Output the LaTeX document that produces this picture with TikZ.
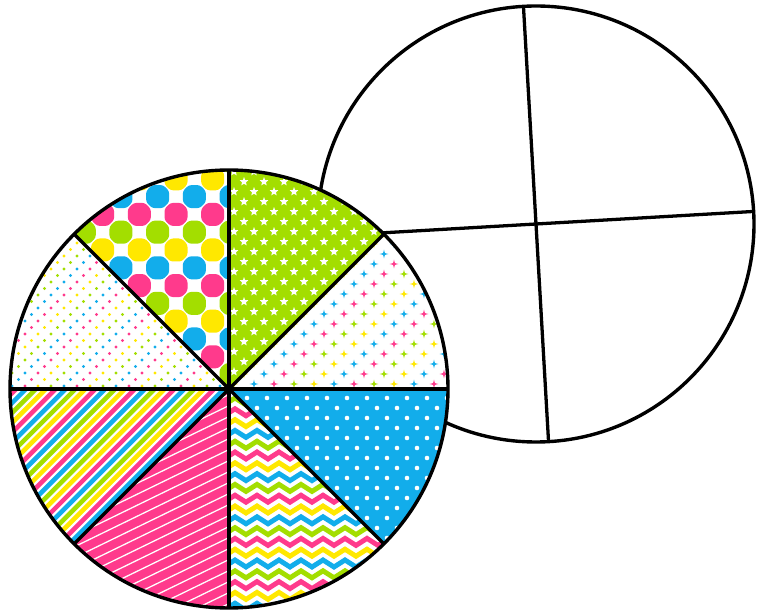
\documentclass[tikz,border=0pt]{standalone}
\usetikzlibrary{calc}
\definecolor{PieInk}{HTML}{000000}
\definecolor{PiePink}{HTML}{FF3A8C}
\definecolor{PieBlue}{HTML}{12ADEB}
\definecolor{PieYellow}{HTML}{FFE800}
\definecolor{PieGreen}{HTML}{A3DE00}
% colour cycles of the patterned wedges
\colorlet{tile0}{PieYellow}\colorlet{tile1}{PieBlue}\colorlet{tile2}{PiePink}\colorlet{tile3}{PieGreen}
\colorlet{band0}{PieBlue}\colorlet{band1}{PiePink}\colorlet{band2}{PieYellow}\colorlet{band3}{PieGreen}
\colorlet{zig0}{PieGreen}\colorlet{zig1}{PiePink}\colorlet{zig2}{PieYellow}\colorlet{zig3}{PieBlue}
\colorlet{spot0}{PieBlue}\colorlet{spot1}{PiePink}\colorlet{spot2}{PieYellow}\colorlet{spot3}{PieGreen}
\newcommand\pieR{219}
\newcommand\piewedge[2]{(front) -- ++(#1:\pieR) arc[start angle=#1,end angle=#2,radius=\pieR] -- cycle}
\tikzset{
  rim/.style={draw=PieInk,line width=2.9pt},
  divider/.style={draw=PieInk,line width=2.8pt},
  band/.style={line width=3.9pt},
  chevron/.style={line width=4.2pt},
  hairline/.style={white,line width=1.1pt},
  tilemark/.pic={
    \fill[#1,rounded corners=2.2pt] (-5.5,11.5) -- (5.5,11.5) -- (11.5,5.5) -- (11.5,-5.5)
      -- (5.5,-11.5) -- (-5.5,-11.5) -- (-11.5,-5.5) -- (-11.5,5.5) -- cycle;
  },
  starmark/.pic={
    \fill[white] (90:4.6) -- (126:2) -- (162:4.6) -- (198:2) -- (234:4.6)
      -- (270:2) -- (306:4.6) -- (342:2) -- (18:4.6) -- (54:2) -- cycle;
  },
  sparkle/.pic={
    \fill[#1] (0:4.3) -- (45:1.3) -- (90:4.3) -- (135:1.3) -- (180:4.3)
      -- (225:1.3) -- (270:4.3) -- (315:1.3) -- cycle;
  },
}
\begin{document}
\begin{tikzpicture}[x=0.03cm,y=0.03cm]
  \useasboundingbox[fill=white] (0,0) rectangle (757,612);
  \coordinate (back) at (536,388);
  \coordinate (front) at (229,223);

  % plain circle behind, cut in quarters
  \fill[white] (back) circle[radius=218];
  \draw[divider] (back) ++(93.3:218) -- ++(273.3:436);
  \draw[divider] (back) ++(3.3:218) -- ++(183.3:436);
  \draw[rim] (back) circle[radius=218];

  % patterned circle in front
  \fill[white] (front) circle[radius=\pieR];

  % quatrefoil tiles
  \begin{scope}
    \clip \piewedge{90}{135};
    \foreach \m in {-9,...,5}{
      \pgfmathtruncatemacro\ci{mod(40-\m,4)}
      \pgfmathsetmacro\ty{362+17.8*\m}
      \pgfmathsetmacro\tx{139.3+18.35*mod(\m+40,2)}
      \foreach \n in {-3,...,3}{
        \pic at ({\tx+36.7*\n},\ty) {tilemark=tile\ci};
      }
    }
  \end{scope}

  % white stars on green
  \begin{scope}
    \clip \piewedge{45}{90};
    \fill[PieGreen] (front) circle[radius=\pieR];
    \foreach \k in {0,...,22}{
      \pgfmathsetmacro\sy{220.3+10*\k}
      \pgfmathsetmacro\sx{234+10*mod(\k,2)}
      \foreach \n in {-1,...,8}{
        \pic at ({\sx+20*\n},\sy) {starmark};
      }
    }
  \end{scope}

  % sparkles
  \begin{scope}
    \clip \piewedge{0}{45};
    \foreach \k in {0,...,16}{
      \pgfmathsetmacro\sy{228+10*\k}
      \pgfmathsetmacro\sx{234+10*mod(\k,2)}
      \foreach \n in {-1,...,11}{
        \pgfmathtruncatemacro\ci{mod(\n-floor(\k/2)+40,4)}
        \pic at ({\sx+20*\n},\sy) {sparkle=tile\ci};
      }
    }
  \end{scope}

  % small dots
  \begin{scope}
    \clip \piewedge{135}{180};
    \foreach \k in {0,...,24}{
      \pgfmathsetmacro\sy{226+6.5*\k}
      \pgfmathsetmacro\sx{12+6.5*mod(\k,2)}
      \foreach \n in {0,...,17}{
        \pgfmathtruncatemacro\ci{mod(\n-floor(\k/2)+40,4)}
        \fill[spot\ci] ({\sx+13*\n},\sy) circle[radius=1.6];
      }
    }
  \end{scope}

  % diagonal bands
  \begin{scope}
    \clip \piewedge{180}{225};
    \foreach \k in {0,...,22}{
      \pgfmathtruncatemacro\ci{mod(\k,4)}
      \pgfmathsetmacro\sc{1-9.9*\k}
      \draw[band,band\ci] ({\sc-20},-20) -- ({\sc+250},250);
    }
  \end{scope}

  % white lines on pink
  \begin{scope}
    \clip \piewedge{225}{270};
    \fill[PiePink] (front) circle[radius=\pieR];
    \foreach \k in {0,...,30}{
      \draw[hairline] (0,{-125+11*\k}) -- (300,{21+11*\k});
    }
  \end{scope}

  % chevrons
  \begin{scope}
    \clip \piewedge{270}{315};
    \foreach \k in {0,...,20}{
      \pgfmathtruncatemacro\ci{mod(\k,4)}
      \pgfmathsetmacro\zy{207-10.8*\k}
      \draw[chevron,zig\ci] (224,\zy) \foreach \i in {1,...,16}{ -- ({224+11*\i},{\zy+7*mod(\i,2)})};
    }
  \end{scope}

  % white dots on blue
  \begin{scope}
    \clip \piewedge{315}{360};
    \fill[PieBlue] (front) circle[radius=\pieR];
    \foreach \k in {0,...,16}{
      \pgfmathsetmacro\sy{214-10*\k}
      \pgfmathsetmacro\sx{247+10*mod(\k,2)}
      \foreach \n in {-2,...,10}{
        \fill[white] ({\sx+20*\n},\sy) circle[radius=2.3];
      }
    }
  \end{scope}

  \foreach \a in {0,45,90,135}{
    \draw[divider] (front) ++(\a:\pieR) -- ++({\a+180}:{2*\pieR});
  }
  \draw[rim] (front) circle[radius=\pieR];
\end{tikzpicture}
\end{document}
